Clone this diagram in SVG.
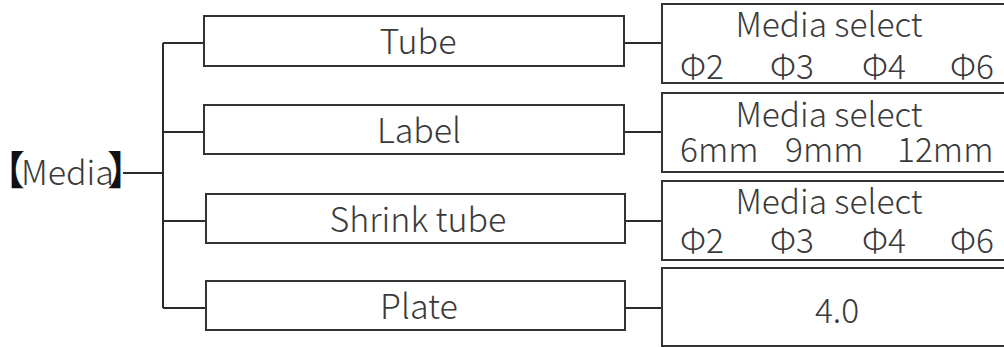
<svg xmlns="http://www.w3.org/2000/svg" width="1004" height="347" viewBox="0 0 1004 347">
<style>
.box{fill:#fff;stroke:#333;stroke-width:2}
.ln{fill:none;stroke:#2b2b2b;stroke-width:2}
text{font-family:"Noto Sans CJK SC","Noto Sans",sans-serif;font-weight:300;fill:#3a3a3a}
.big{font-size:34px;text-anchor:middle}
.mid{font-size:33.5px}
.c{text-anchor:middle}
.br{fill:#111;font-weight:400;font-size:40px}
</style>
<rect width="1004" height="347" fill="#fff"/>
<g id="connectors">
<path class="ln" d="M123 173H163M163 43V308M163 43H204M163 132H204M163 221H206M163 308H206"/>
<path class="ln" d="M624 43H662M624 132H662M625 221H662M625 308H662"/>
</g>
<g id="media"><text y="185" style="font-size:34px"><tspan class="br" x="-15">【</tspan><tspan x="21">Media</tspan><tspan class="br" x="107">】</tspan></text></g>
<g id="tube"><rect class="box" x="204" y="16" width="420" height="50"/><text class="big" x="418" y="54">Tube</text></g>
<g id="label"><rect class="box" x="204" y="105" width="420" height="49"/><text class="big" x="419" y="143">Label</text></g>
<g id="shrink"><rect class="box" x="206" y="194" width="419" height="49"/><text class="big" x="418" y="232">Shrink tube</text></g>
<g id="plate"><rect class="box" x="206" y="281" width="419" height="49"/><text class="big" x="419" y="319">Plate</text></g>
<g id="tube-sel"><rect class="box" x="662" y="4" width="360" height="79"/>
<text class="mid c" x="829" y="37">Media select</text>
<text class="mid" y="79"><tspan x="680">Φ2</tspan><tspan x="770">Φ3</tspan><tspan x="862">Φ4</tspan><tspan x="950">Φ6</tspan></text></g>
<g id="label-sel"><rect class="box" x="662" y="93" width="360" height="79"/>
<text class="mid c" x="829" y="127">Media select</text>
<text class="mid" y="162"><tspan x="680">6mm</tspan><tspan x="785">9mm</tspan><tspan x="897">12mm</tspan></text></g>
<g id="shrink-sel"><rect class="box" x="662" y="181" width="360" height="79"/>
<text class="mid c" x="829" y="214">Media select</text>
<text class="mid" y="253"><tspan x="680">Φ2</tspan><tspan x="770">Φ3</tspan><tspan x="862">Φ4</tspan><tspan x="950">Φ6</tspan></text></g>
<g id="plate-sel"><rect class="box" x="662" y="268" width="360" height="78"/>
<text class="mid c" x="837" y="323">4.0</text></g>
</svg>
